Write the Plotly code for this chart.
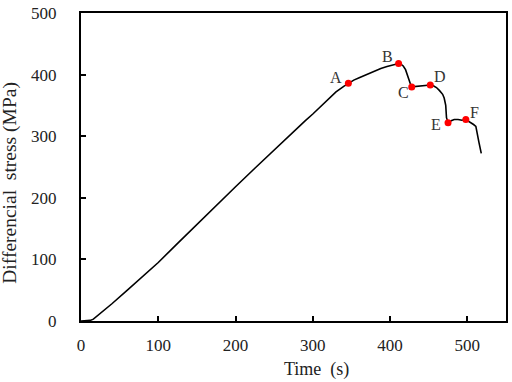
import plotly.graph_objects as go

# Stress-time curve
time_s = [0, 6, 12, 16, 25, 40, 60, 80, 100, 125, 150, 175, 200, 225, 250, 270, 290, 300,
          310, 320, 330, 340, 346, 353, 360, 371, 380, 388, 396, 404, 411, 414, 417, 420,
          423, 426, 428, 434, 440, 446, 452, 456, 460, 464, 468, 470, 472, 473, 475, 479,
          483, 488, 493, 498, 501, 504, 508, 511, 513, 515, 518]
stress_mpa = [0, 0, 1, 3, 12, 28, 50, 72, 95, 126, 157, 187, 218, 248, 278, 301, 325, 336,
              348, 360, 372, 381, 386, 391, 395, 401, 406, 410, 413, 416, 418, 417, 414, 408,
              396, 386, 380, 381, 382, 382, 383, 382, 379, 374, 368, 362, 350, 330, 322, 325,
              327, 327, 326, 327, 325, 323, 319, 316, 305, 290, 272]

# Key points
key_labels = ["A", "B", "C", "D", "E", "F"]
key_time = [346, 411, 428, 452, 475, 498]
key_stress = [386, 418, 380, 383, 322, 327]
# label pixel offsets (styling)
label_dx = [-12, -11, -8, 10, -12, 9]
label_dy = [-6, -7, 6, -9, 2, -7]

x_ticks = [0, 100, 200, 300, 400, 500]
y_ticks = [0, 100, 200, 300, 400, 500]

serif = "Liberation Serif, Times New Roman, serif"
txt = "#222222"

fig = go.Figure()
fig.add_trace(go.Scatter(x=time_s, y=stress_mpa, mode="lines",
                         line=dict(color="black", width=1.6), hoverinfo="skip"))
fig.add_trace(go.Scatter(x=key_time, y=key_stress, mode="markers",
                         marker=dict(color="#ff0000", size=7), hoverinfo="skip"))

for lab, xv, yv, dx, dy in zip(key_labels, key_time, key_stress, label_dx, label_dy):
    fig.add_annotation(x=xv, y=yv, text=lab, showarrow=True, arrowcolor="rgba(0,0,0,0)",
                       ax=dx, ay=dy, font=dict(family=serif, size=16, color="#333333"))

fig.add_annotation(xref="paper", yref="paper", x=0.554, y=-0.156, text="Time  (s)",
                   showarrow=False, xanchor="center", yanchor="middle",
                   font=dict(family=serif, size=18, color=txt))
fig.add_annotation(xref="paper", yref="paper", x=-0.167, y=0.449,
                   text="Differencial  stress (MPa)", textangle=-90,
                   showarrow=False, xanchor="center", yanchor="middle",
                   font=dict(family=serif, size=19.5, color=txt))

axis_common = dict(showgrid=False, zeroline=False, showline=True, linecolor="black",
                   linewidth=2, mirror=True, ticks="inside", ticklen=5, tickwidth=1.5,
                   tickcolor="black", ticklabeloverflow="allow",
                   tickfont=dict(family=serif, size=17, color=txt))

fig.update_xaxes(range=[0, 550], tickvals=x_ticks, ticklabelstandoff=8, **axis_common)
fig.update_yaxes(range=[0, 500], tickvals=y_ticks, ticklabelstandoff=19, **axis_common)

fig.update_layout(width=512, height=382, margin=dict(l=81, r=4, t=7, b=61),
                  paper_bgcolor="white", plot_bgcolor="white", showlegend=False)

fig.write_html("out.html", config={"displayModeBar": False},
               post_script="document.body.style.margin='0';document.body.style.overflow='hidden';")
